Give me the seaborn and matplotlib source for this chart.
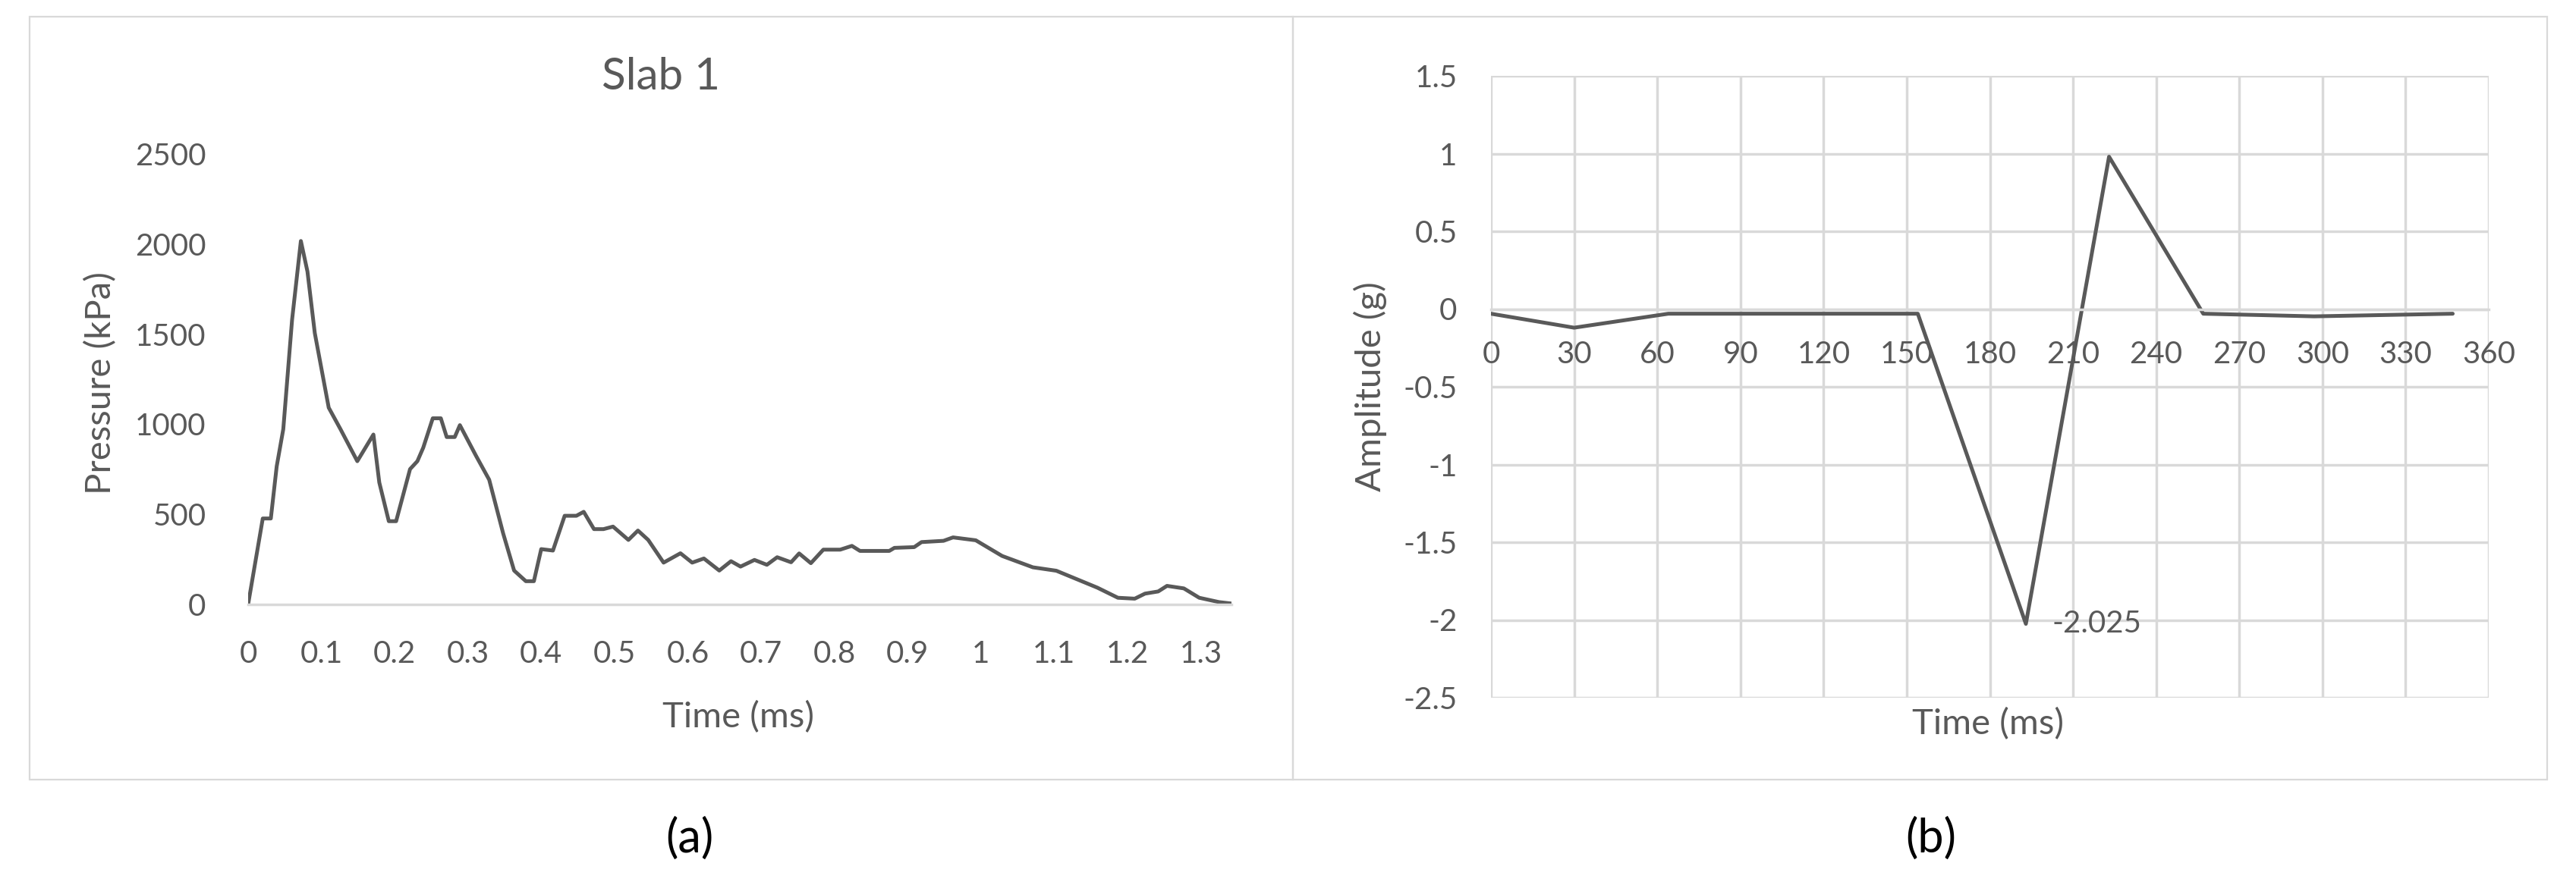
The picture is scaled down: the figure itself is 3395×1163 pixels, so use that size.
import numpy as np
import seaborn as sns
import matplotlib.pyplot as plt
from matplotlib.patches import Rectangle
from matplotlib.ticker import FuncFormatter, MultipleLocator

sns.set_style("white")
plt.rcParams['font.family'] = ['Lato', 'DejaVu Sans']

# (a) Slab 1 pressure history
slab_time = [0.0, 0.020, 0.031, 0.039, 0.048, 0.060, 0.072, 0.081, 0.091, 0.110,
             0.126, 0.149, 0.171, 0.179, 0.192, 0.202, 0.221, 0.231, 0.239, 0.252,
             0.263, 0.271, 0.282, 0.289, 0.311, 0.329, 0.348, 0.363, 0.379, 0.390,
             0.400, 0.416, 0.432, 0.448, 0.458, 0.472, 0.485, 0.498, 0.519, 0.532,
             0.546, 0.567, 0.590, 0.606, 0.622, 0.643, 0.659, 0.672, 0.691, 0.708,
             0.722, 0.741, 0.752, 0.768, 0.785, 0.808, 0.824, 0.835, 0.875, 0.882,
             0.909, 0.919, 0.949, 0.962, 0.993, 1.029, 1.071, 1.103, 1.159, 1.187,
             1.210, 1.224, 1.242, 1.254, 1.277, 1.298, 1.325, 1.342]
slab_pressure = [0, 477, 477, 766, 973, 1580, 2017, 1847, 1506, 1092,
                 973, 795, 943, 677, 462, 462, 751, 795, 870, 1033,
                 1033, 929, 929, 995, 825, 692, 395, 188, 129, 129,
                 307, 299, 492, 492, 514, 418, 418, 432, 358, 410,
                 358, 232, 284, 232, 255, 188, 240, 210, 247, 220,
                 262, 234, 283, 229, 304, 304, 325, 297, 297, 314,
                 318, 346, 353, 372, 356, 269, 206, 187, 93, 37,
                 32, 60, 72, 103, 89, 37, 13, 5]

# (b) amplitude time history
amp_time = [0, 30, 64, 154, 193, 223, 257, 297, 347]
amp_value = [-0.03, -0.12, -0.03, -0.03, -2.025, 0.98, -0.03, -0.047, -0.03]

slab_xticks = [round(0.1 * i, 1) for i in range(14)]

W, H = 3395, 1163
TEXT = '#595959'
GRID = '#d9d9d9'
LINE = '#595959'


def fx(px):
    return px / W


def fy(py):
    return 1 - py / H


def plain(v, pos):
    return f'{round(v, 3):g}'


fig = plt.figure(figsize=(W / 100, H / 100), dpi=100)

# panel frames
for x0, x1 in [(39, 1704), (1704, 3357)]:
    fig.add_artist(Rectangle((fx(x0), fy(1028)), (x1 - x0) / W, (1028 - 22) / H,
                             transform=fig.transFigure, fill=False, ec=GRID, lw=1.6))

# === Panel (a) ===
ax1 = fig.add_axes([fx(327), fy(797), (1623 - 327) / W, (797 - 203) / H])
sns.lineplot(x=slab_time, y=slab_pressure, ax=ax1, color=LINE, lw=3.6,
             estimator=None, sort=False)
ax1.set_xlim(0, 1.342)
ax1.set_ylim(0, 2500)
ax1.set_xticks(slab_xticks)
ax1.yaxis.set_major_locator(MultipleLocator(500))
ax1.xaxis.set_major_formatter(FuncFormatter(plain))
ax1.yaxis.set_major_formatter(FuncFormatter(plain))
for s in ['top', 'right', 'left']:
    ax1.spines[s].set_visible(False)
ax1.spines['bottom'].set_color(GRID)
ax1.spines['bottom'].set_linewidth(2.5)
ax1.tick_params(axis='x', length=0, pad=34, labelsize=29, labelcolor=TEXT)
ax1.tick_params(axis='y', length=0, pad=40, labelsize=29, labelcolor=TEXT)
ax1.set_xlabel('')
ax1.set_ylabel('')

fig.text(fx(871), fy(102), 'Slab 1', ha='center', va='center', fontsize=42, color=TEXT)
fig.text(fx(973), fy(946), 'Time (ms)', ha='center', va='center', fontsize=34, color=TEXT)
fig.text(fx(133), fy(505), 'Pressure (kPa)', ha='center', va='center', rotation=90,
         fontsize=34, color=TEXT)

# === Panel (b) ===
ax2 = fig.add_axes([fx(1965), fy(920), (3280 - 1965) / W, (920 - 100) / H])
ax2.set_axisbelow(True)
ax2.grid(True, color=GRID, lw=2.5)
sns.lineplot(x=amp_time, y=amp_value, ax=ax2, color=LINE, lw=3.6,
             estimator=None, sort=False)
ax2.set_xlim(0, 360)
ax2.set_ylim(-2.5, 1.5)
ax2.xaxis.set_major_locator(MultipleLocator(30))
ax2.yaxis.set_major_locator(MultipleLocator(0.5))
ax2.xaxis.set_major_formatter(FuncFormatter(plain))
ax2.yaxis.set_major_formatter(FuncFormatter(plain))
for s in ['top', 'right', 'left']:
    ax2.spines[s].set_visible(False)
ax2.spines['bottom'].set_position(('data', 0))
ax2.spines['bottom'].set_color(GRID)
ax2.spines['bottom'].set_linewidth(2.5)
ax2.tick_params(axis='x', length=0, pad=30, labelsize=29, labelcolor=TEXT)
ax2.tick_params(axis='y', length=0, pad=32, labelsize=29, labelcolor=TEXT)
ax2.set_xlabel('')
ax2.set_ylabel('')

i_min = int(np.argmin(amp_value))
ax2.annotate(f'{amp_value[i_min]:g}', xy=(amp_time[i_min], amp_value[i_min]),
             xytext=(25, 0), textcoords='offset points', ha='left', va='center',
             fontsize=29, color=TEXT)

fig.text(fx(2620), fy(955), 'Time (ms)', ha='center', va='center', fontsize=34, color=TEXT)
fig.text(fx(1806), fy(510), 'Amplitude (g)', ha='center', va='center', rotation=90,
         fontsize=34, color=TEXT)

# subfigure labels
fig.text(fx(909), fy(1106), '(a)', ha='center', va='center', fontsize=44, color='black')
fig.text(fx(2545), fy(1106), '(b)', ha='center', va='center', fontsize=44, color='black')

fig.savefig('out.png', dpi=100, facecolor='white')
